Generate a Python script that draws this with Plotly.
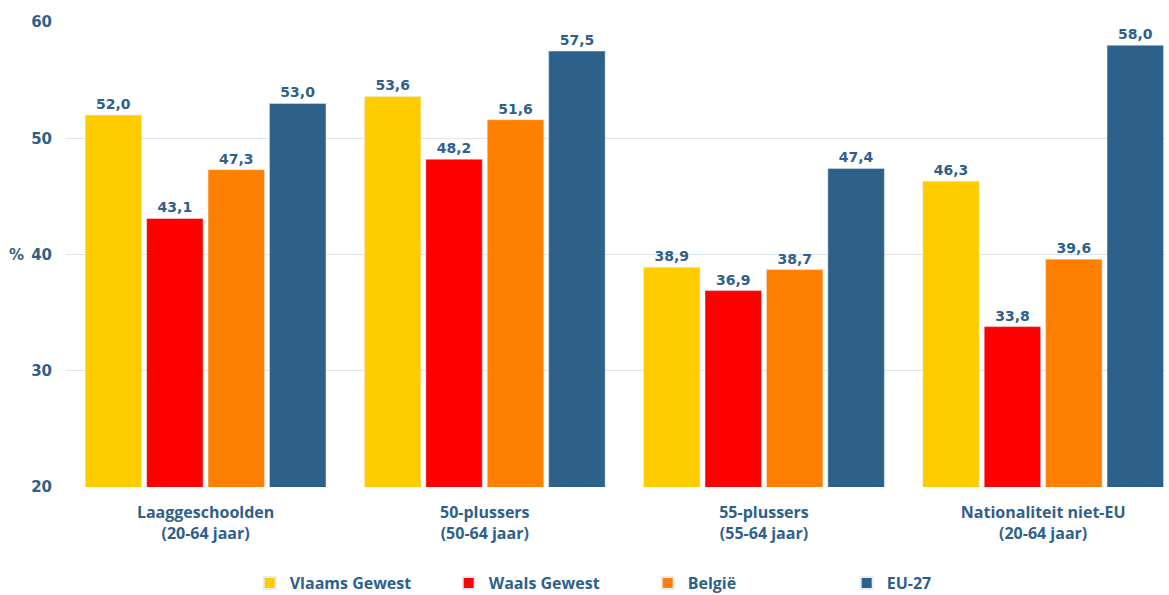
import plotly.graph_objects as go

categories = ["Laaggeschoolden<br>(20-64 jaar)", "50-plussers<br>(50-64 jaar)",
              "55-plussers<br>(55-64 jaar)", "Nationaliteit niet-EU<br>(20-64 jaar)"]
series_names = ["Vlaams Gewest", "Waals Gewest", "België", "EU-27"]
vlaams = [52.0, 53.6, 38.9, 46.3]
waals = [43.1, 48.2, 36.9, 33.8]
belgie = [47.3, 51.6, 38.7, 39.6]
eu27 = [53.0, 57.5, 47.4, 58.0]
colors = ["#FFCC00", "#FF0000", "#FF7F00", "#2E6189"]
y_ticks = [20, 30, 40, 50, 60]

text_color = "#2F5F8A"
fig = go.Figure()
for name, vals, col in zip(series_names, [vlaams, waals, belgie, eu27], colors):
    fig.add_trace(go.Bar(
        x=list(range(len(categories))), y=vals, name=name, marker_color=col,
        text=[f"{v:.1f}".replace(".", ",") for v in vals],
        textposition="outside", cliponaxis=False,
        textfont=dict(family="DejaVu Sans", size=14, color=text_color, weight="bold"),
        base=0,
    ))

fig.update_layout(
    width=1169, height=595,
    margin=dict(l=66, r=3, t=22, b=108, autoexpand=False),
    barmode="group", bargap=0.12, bargroupgap=0.08,
    plot_bgcolor="white", paper_bgcolor="white",
    showlegend=True,
    legend=dict(orientation="h", x=0.167, xanchor="left", y=-0.17, yanchor="top",
                entrywidth=154, itemsizing="constant",
                font=dict(family="Open Sans", size=16, color=text_color, weight="bold")),
    xaxis=dict(tickmode="array", tickvals=list(range(len(categories))), ticktext=categories,
               range=[-0.5, 3.44], showgrid=False, showline=False, ticks="",
               automargin=False, ticklabelstandoff=14,
               tickfont=dict(family="Open Sans", size=16, color=text_color, weight="bold")),
    yaxis=dict(range=[20, 60], tickvals=y_ticks, showgrid=True, gridcolor="#DCE6EA",
               gridwidth=1, zeroline=False, showline=False, ticks="", ticklabelstandoff=13,
               automargin=False,
               tickfont=dict(family="DejaVu Sans", size=15, color=text_color, weight="bold")),
    annotations=[dict(text="%", xref="paper", yref="y", x=0, y=40, xanchor="right",
                      xshift=-40, showarrow=False,
                      font=dict(family="DejaVu Sans", size=15, color=text_color, weight="bold"))],
)
fig.write_html("out.html", config={"displayModeBar": False},
               post_script="document.body.style.margin='0';document.body.style.overflow='hidden';")
